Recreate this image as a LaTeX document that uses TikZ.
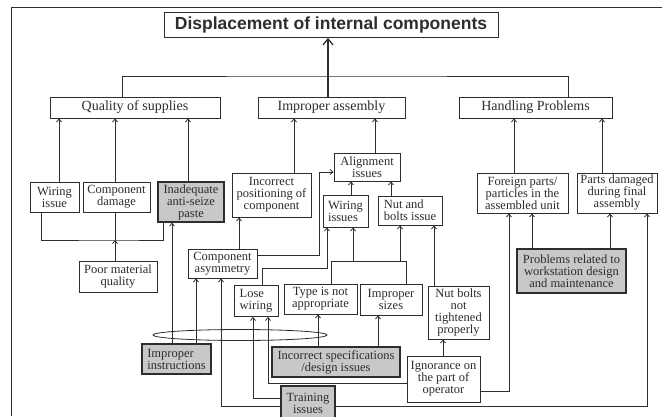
\documentclass[tikz,border=0pt]{standalone}
\usepackage{fontspec}
\setmainfont{Liberation Serif}
\newfontfamily\headfont{Liberation Sans}
\usetikzlibrary{arrows.meta}
\definecolor{linegray}{RGB}{45,45,45}
\definecolor{boxgray}{RGB}{200,200,200}

\begin{document}
\begin{tikzpicture}[x=1pt,y=-1pt,color=linegray,line width=0.8pt,
    box/.style={draw,fill=white,rectangle,align=center,inner sep=1pt,font=\fontsize{12.5}{12}\selectfont},
    gbox/.style={box,fill=boxgray,line width=1.2pt},
    head/.style={box,font=\fontsize{14}{14}\selectfont,minimum height=21pt},
    arr/.style={-{Straight Barb[length=3pt,width=5pt]}},
    bigarr/.style={-{Straight Barb[length=6pt,width=10pt]},line width=1.3pt}]

    \useasboundingbox (0,0) rectangle (662,416);

    % Frame
    \draw (11,416) -- (11,7) -- (662,7);

    % Nodes
    \node[box,font=\headfont\bfseries\fontsize{17.5}{18}\selectfont,minimum width=334pt,minimum height=25pt] (disp) at (331,25) {Displacement of internal components};

    \node[head,minimum width=170pt] (qual) at (135,107.5) {Quality of supplies};
    \node[head,minimum width=147pt] (impa) at (331.5,107.5) {Improper assembly};
    \node[head,minimum width=153pt] (hand) at (535.5,107.5) {Handling Problems};

    \node[box,minimum width=49pt,minimum height=30pt] (wiri) at (54.5,197) {Wiring\\issue};
    \node[box,minimum width=67pt,minimum height=30pt] (cdam) at (116.5,197) {Component\\damage};
    \node[gbox,minimum width=66pt,minimum height=40pt] (inad) at (191,202) {Inadequate\\anti-seize\\paste};
    \node[box,minimum width=78pt,minimum height=31pt] (poor) at (118,276.5) {Poor material\\quality};

    \node[box,minimum width=79pt,minimum height=44pt] (ipos) at (271.5,195) {Incorrect\\positioning of\\component};
    \node[box,minimum width=66pt,minimum height=28pt] (alig) at (367,167) {Alignment\\issues};
    \node[box,align=left,minimum width=45pt,minimum height=32pt] (wisu) at (345.5,211) {Wiring\\issues};
    \node[box,align=left,minimum width=64pt,minimum height=29pt] (nutb) at (410,210.5) {Nut and\\bolts issue};

    \node[box,minimum width=91pt,minimum height=40pt] (fore) at (522.5,193) {Foreign parts/\\particles in the\\assembled unit};
    \node[box,minimum width=80pt,minimum height=40pt] (pdam) at (617,193) {Parts damaged\\during final\\assembly};
    \node[gbox,minimum width=109pt,minimum height=44pt] (prob) at (571.5,271) {Problems related to\\workstation design\\and maintenance};

    \node[box,minimum width=69pt,minimum height=29pt] (casy) at (222.5,263.5) {Component\\asymmetry};
    \node[box,align=left,minimum width=44pt,minimum height=31pt] (lose) at (256,301) {Lose\\wiring};
    \node[box,minimum width=73pt,minimum height=30pt] (type) at (320.5,299) {Type is not\\appropriate};
    \node[box,minimum width=62pt,minimum height=31pt] (size) at (391,299.5) {Improper\\sizes};
    \node[box,minimum width=61pt,minimum height=53pt] (ntig) at (458.5,312.5) {Nut bolts\\not\\tightened\\properly};
    \node[box,minimum width=73pt,minimum height=46pt] (igno) at (443.5,379) {Ignorance on\\the part of\\operator};

    \node[gbox,minimum width=128pt,minimum height=30pt] (spec) at (336,362) {Incorrect specifications\\/design issues};
    \node[gbox,align=left,minimum width=69pt,minimum height=30pt] (inst) at (176.5,359) {Improper\\instructions};
    \node[gbox,minimum width=54pt,minimum height=34pt] (trai) at (308,403) {Training\\issues};

    \coordinate (bus) at (328,76);
    \coordinate (pmbus) at (115,240);

    % Edges
    \draw (qual.north -| 122,0) |- (bus) -| (hand.north -| 568,0);
    \draw[bigarr] (impa.north -| bus) -- (disp.south -| bus);

    \draw[arr] (wiri.north -| 59,0) -- (qual.south -| 59,0);
    \draw[arr] (cdam.north -| 115,0) -- (qual.south -| 115,0);
    \draw[arr] (inad.north -| 188,0) -- (qual.south -| 188,0);
    \draw[arr] (ipos.north -| 294,0) -- (impa.south -| 294,0);
    \draw[arr] (alig.north -| 375,0) -- (impa.south -| 375,0);
    \draw[arr] (fore.north -| 514,0) -- (hand.south -| 514,0);
    \draw[arr] (pdam.north -| 602,0) -- (hand.south -| 602,0);

    \draw (wiri.south -| 41,0) |- (pmbus) -| (inad.south -| 163,0);
    \draw (cdam.south -| pmbus) -- (pmbus);
    \draw[arr] (poor.north -| pmbus) -- (pmbus);

    \draw[arr] (inst.north -| 172,0) -- (inad.south -| 172,0);
    \draw[arr] (inst.north -| 196,0) -- (casy.south -| 196,0);
    \draw[arr] (casy.north -| 239,0) -- (ipos.south -| 239,0);
    \draw[arr] (casy.east |- 0,255) -| (319,172) -- (alig.west |- 0,172);

    \draw[arr] (wisu.north -| 351,0) -- (alig.south -| 351,0);
    \draw[arr] (nutb.north -| 391,0) -- (alig.south -| 391,0);
    \draw[arr] (lose.north -| 262,0) |- (327,268) -- (wisu.south -| 327,0);

    \draw (type.north -| 331,0) -- (331,261) -- (406,261) -- (size.north -| 406,0);
    \draw[arr] (353,261) -- (wisu.south -| 353,0);
    \draw[arr] (400,261) -- (nutb.south -| 400,0);
    \draw[arr] (ntig.north -| 434,0) -- (nutb.south -| 434,0);

    \draw[arr] (igno.north -| 443,0) -- (ntig.south -| 443,0);
    \draw[arr] (igno.west |- 0,383) -| (lose.south -| 268,0);
    \draw[arr] (igno.east |- 0,391) -| (fore.south -| 509,0);

    \draw[arr] (spec.north -| 318,0) -- (type.south -| 318,0);
    \draw[arr] (spec.north -| 378,0) -- (size.south -| 378,0);

    \draw[arr] (trai.west |- 0,398) -| (lose.south -| 253,0);
    \draw[arr] (trai.west |- 0,406) -| (casy.south -| 221,0);
    \draw[arr] (trai.east |- 0,406) -| (pdam.south -| 647,0);

    \draw[arr] (prob.north -| 532,0) -- (fore.south -| 532,0);
    \draw[arr] (prob.north -| 610,0) -- (pdam.south -| 610,0);

    % Grouping ellipse
    \draw (240,335) ellipse [x radius=87, y radius=5.5];

\end{tikzpicture}
\end{document}
